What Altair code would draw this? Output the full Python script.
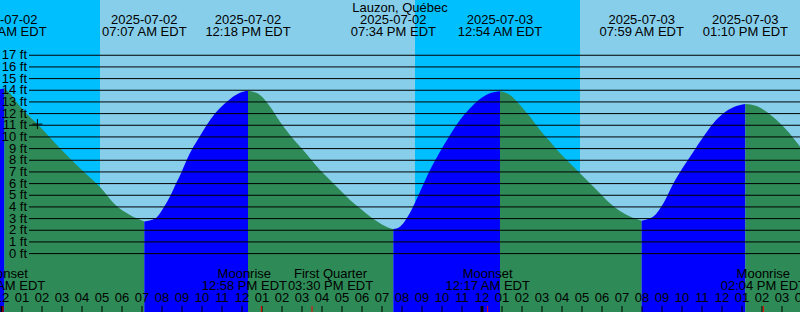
import altair as alt
import pandas as pd

# ---------------- data ----------------
title_text = "Lauzon, Québec"
day_dates = ["2025-07-02", "2025-07-03"]

# tide extremes (day index from 2025-07-02, local clock time, level ft)
extreme_days = [0, 0, 0, 0, 1, 1, 1]
extreme_clock = ["12:07 AM EDT", "07:07 AM EDT", "12:18 PM EDT", "07:34 PM EDT",
                 "12:54 AM EDT", "07:59 AM EDT", "01:10 PM EDT"]
extreme_feet = [14.15, 2.75, 13.95, 2.1, 13.91, 2.82, 12.82]

# tide curve readings between extremes (hours since 2025-07-02 00:00, ft)
curve_hours = [-0.1,
               0.4, 0.9, 1.9, 2.9, 3.9, 4.9, 5.65, 6.4,
               7.65, 8.1, 8.43, 8.7, 8.98, 9.23, 9.52, 9.87, 10.23, 10.65, 11.23, 11.9,
               12.9, 13.4, 13.9, 14.4, 14.9, 15.4, 15.9, 16.4, 16.9, 17.4, 17.9, 18.4, 18.9, 19.4,
               19.9, 20.4, 20.9, 21.4, 21.9, 22.4, 22.9, 23.4, 23.9, 24.4,
               25.4, 25.9, 26.4, 26.9, 27.4, 27.9, 28.4, 28.9, 29.4, 29.9, 30.4, 30.9, 31.4,
               32.57, 33.07, 33.57, 34.07, 34.57, 35.07, 35.57, 36.07, 36.57,
               37.73, 38.23, 38.73, 39.23, 39.9]
curve_feet = [14.08,
              13.74, 12.6, 10.88, 9.02, 7.31, 5.7, 4.2, 3.3,
              3.0, 4.0, 5.0, 6.0, 7.0, 8.0, 9.0, 10.0, 11.0, 12.0, 13.0, 13.79,
              13.6, 12.6, 11.3, 10.17, 9.17, 8.17, 7.17, 6.31, 5.45, 4.6, 3.88, 3.17, 2.6, 2.17,
              2.31, 3.5, 5.3, 7.17, 8.74, 10.17, 11.45, 12.45, 13.25, 13.74,
              13.6, 12.74, 11.74, 10.6, 9.6, 8.6, 7.74, 6.88, 6.03, 5.17, 4.31, 3.65, 3.17,
              3.17, 4.31, 6.03, 7.45, 8.74, 10.02, 11.17, 12.02, 12.54,
              12.65, 12.16, 11.45, 10.6, 9.17]

# sky: sunrise / sunset boundaries
sky_kind = ["night", "day", "night", "day"]
sky_start = [-0.1, 4.9, 20.65, 28.9]
sky_end = [4.9, 20.65, 28.9, 39.9]

# moon events
moon_names = ["Moonset", "Moonrise", "First Quarter", "Moonset", "Moonrise"]
moon_days = [0, 0, 0, 1, 1]
moon_clock = ["12:03 AM EDT", "12:58 PM EDT", "03:30 PM EDT", "12:17 AM EDT", "02:04 PM EDT"]

# current-time marker
now_hour = 1.77
now_feet = 11.1

level_ticks = list(range(0, 18))
hour_ticks = list(range(0, 41))
midnight_ticks = [0, 24]

# ---------------- layout / style ----------------
W, H = 800, 312
FONT = "Liberation Sans"
FS = 13
label_nudge = [0, -17, 18.5, 0, 0]   # px shift to avoid overlapping moon labels
colors_dom = ["night", "day", "rising", "falling"]
colors_rng = ["#00bfff", "#87ceeb", "#0000ff", "#2e8b57"]


def to_hours(day, clock):
    hh, rest = clock.split(":")
    mm = int(rest[:2])
    ap = rest[3:5]
    h = int(hh) % 12 + (12 if ap == "PM" else 0)
    return day * 24 + h + mm / 60.0


def hour_label(h):
    v = h % 12
    return "%02d" % (12 if v == 0 else v)


extreme_hours = [to_hours(d, c) for d, c in zip(extreme_days, extreme_clock)]
moon_hours = [to_hours(d, c) for d, c in zip(moon_days, moon_clock)]

# build segment table (split at each extreme; extremes shared by neighbours)
pts = sorted(list(zip(curve_hours, curve_feet)) + list(zip(extreme_hours, extreme_feet)))
rows = []
seg = 0
cur = [pts[0]]
ext_set = set(extreme_hours)


def flush(cur, seg):
    direction = "rising" if cur[-1][1] > cur[0][1] else "falling"
    return [{"h": q[0], "ft": q[1], "seg": seg, "dir": direction} for q in cur]


for p in pts[1:]:
    cur.append(p)
    if p[0] in ext_set:
        rows += flush(cur, seg)
        seg += 1
        cur = [p]
if len(cur) > 1:
    rows += flush(cur, seg)
tide_df = pd.DataFrame(rows)

sky_df = pd.DataFrame({"kind": sky_kind, "start": sky_start, "end": sky_end})
ext_df = pd.DataFrame({"h": extreme_hours,
                       "date": [day_dates[d] for d in extreme_days],
                       "clock": extreme_clock})
lvl_df = pd.DataFrame({"ft": level_ticks, "label": ["%d ft" % v for v in level_ticks]})
hour_df = pd.DataFrame({"h": hour_ticks, "label": [hour_label(h) for h in hour_ticks]})
mid_df = pd.DataFrame({"h": midnight_ticks})
moon_df = pd.DataFrame({"h": moon_hours, "name": moon_names, "clock": moon_clock})
now_df = pd.DataFrame({"h": [now_hour], "ft": [now_feet]})

xscale = alt.Scale(domain=[-0.1, 39.9], nice=False, zero=False)
yscale = alt.Scale(domain=[-5.006, 21.737], nice=False, zero=False)
cscale = alt.Scale(domain=colors_dom, range=colors_rng)


def X(field):
    return alt.X(field, scale=xscale, axis=None)


def Y(field):
    return alt.Y(field, scale=yscale, axis=None, stack=None)


sky = alt.Chart(sky_df).mark_rect().encode(
    x=X("start:Q"), x2="end:Q",
    y=alt.value(0), y2=alt.value(H),
    color=alt.Color("kind:N", scale=cscale, legend=None),
)

tide = alt.Chart(tide_df).mark_area(interpolate="monotone").encode(
    x=X("h:Q"), y=Y("ft:Q"), y2=alt.value(H),
    color=alt.Color("dir:N", scale=cscale, legend=None),
    detail="seg:N",
)

grid = alt.Chart(lvl_df).mark_rule(color="black", strokeWidth=1).encode(
    y=Y("ft:Q"), x=alt.value(29), x2=alt.value(W),
)

txt = dict(font=FONT, fontSize=FS, color="black", align="center", baseline="alphabetic")

level_labels = alt.Chart(lvl_df).mark_text(
    font=FONT, fontSize=FS, color="black", align="right", baseline="middle").encode(
    y=Y("ft:Q"), x=alt.value(27), text="label:N")

hour_labels = alt.Chart(hour_df).mark_text(**txt).encode(
    x=X("h:Q"), y=alt.value(301.7), text="label:N")

hour_tick_marks = alt.Chart(hour_df).mark_rule(color="black", strokeWidth=1).encode(
    x=X("h:Q"), y=alt.value(306), y2=alt.value(H))

mid_tick_marks = alt.Chart(mid_df).mark_rule(color="black", strokeWidth=3).encode(
    x=X("h:Q"), y=alt.value(306), y2=alt.value(H))

title = alt.Chart(pd.DataFrame({"t": [title_text]})).mark_text(**txt).encode(
    x=alt.value(W / 2), y=alt.value(11.5), text="t:N")

ext_date = alt.Chart(ext_df).mark_text(**txt).encode(
    x=X("h:Q"), y=alt.value(23.8), text="date:N")
ext_clock = alt.Chart(ext_df).mark_text(**txt).encode(
    x=X("h:Q"), y=alt.value(35.5), text="clock:N")

moon_layers = []
for i in range(len(moon_names)):
    sub = moon_df.iloc[[i]]
    moon_layers.append(alt.Chart(sub).mark_text(dx=label_nudge[i], **txt).encode(
        x=X("h:Q"), y=alt.value(278), text="name:N"))
    moon_layers.append(alt.Chart(sub).mark_text(dx=label_nudge[i], **txt).encode(
        x=X("h:Q"), y=alt.value(290), text="clock:N"))

moon_ticks = alt.Chart(moon_df).mark_rule(color="red", strokeWidth=1).encode(
    x=X("h:Q"), y=alt.value(306), y2=alt.value(H))

now_mark = alt.Chart(now_df).mark_point(
    shape="M-1,0L1,0M0,-1L0,1", size=100, filled=False, color="black",
    strokeWidth=1, opacity=1).encode(
    x=X("h:Q"), y=Y("ft:Q"),
)

chart = alt.layer(sky, tide, grid, level_labels, hour_labels, hour_tick_marks,
                  mid_tick_marks, title, ext_date, ext_clock, *moon_layers,
                  moon_ticks, now_mark).properties(
    width=W, height=H, padding=0, autosize=alt.AutoSizeParams(type="none"),
).configure_view(strokeWidth=0)

chart.save("out.html", embed_options={"renderer": "svg", "actions": False})
